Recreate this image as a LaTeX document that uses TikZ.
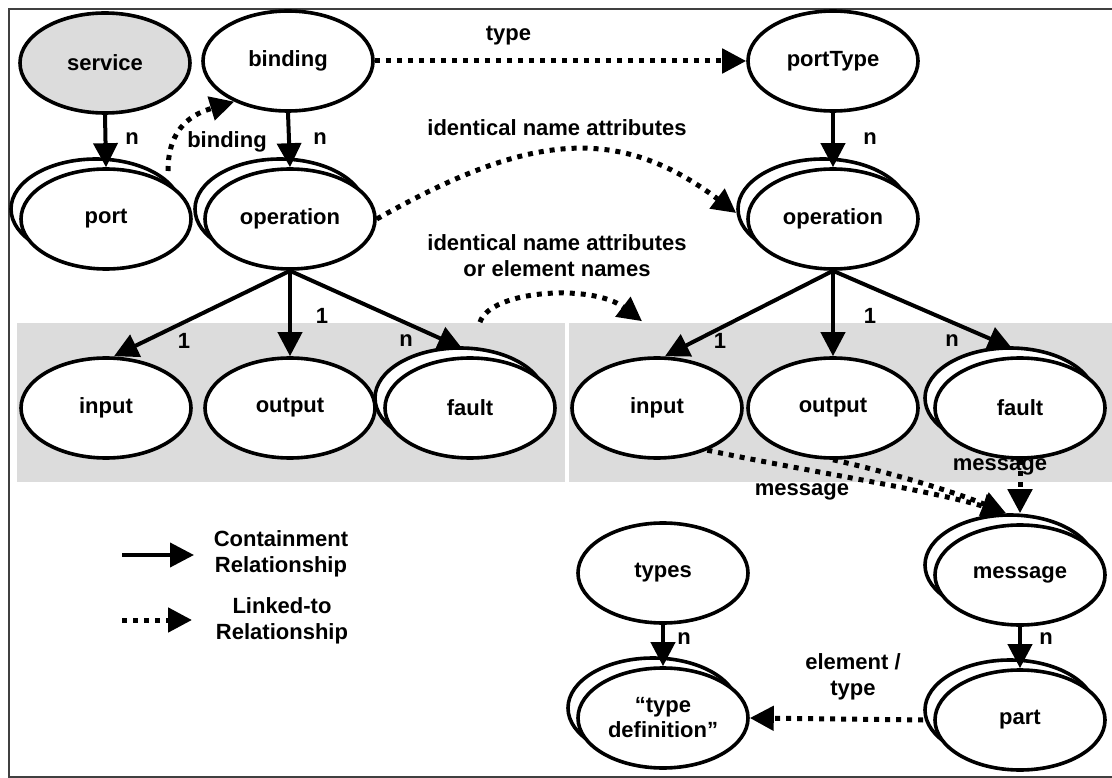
\documentclass[tikz,border=0pt]{standalone}
\usepackage{fontspec}
\setmainfont{Liberation Sans}
\usetikzlibrary{arrows.meta,shapes.geometric,calc}
\definecolor{panel}{RGB}{220,220,220}
\begin{document}
\begin{tikzpicture}[x=1pt,y=-1pt,
  every node/.style={font=\fontsize{22}{25}\selectfont\bfseries},
  ell/.style={ellipse,draw,line width=3.6pt,fill=white,minimum width=170pt,
    minimum height=100pt,inner sep=0pt,align=center},
  contain/.style={line width=4pt,-{Triangle[length=24pt,width=24pt]}},
  link/.style={line width=5pt,dash pattern=on 5pt off 6pt,
    -{Triangle[length=24pt,width=24pt]}},
  lbl/.style={inner sep=1pt,align=center,font=\fontsize{22}{26}\selectfont\bfseries},
]
\useasboundingbox (0,0) rectangle (1112,778);
% outer frame and the two grey panels
\draw[line width=1.6pt,black!75] (1114,9) -- (9,9) -- (9,777) -- (1114,777);
\fill[panel] (17,323) rectangle (565,482);
\fill[panel] (569,323) rectangle (1114,482);

% a stacked ellipse: a copy behind, offset up and to the left
\newcommand{\stacked}[3]{%
  \node[ell] at ($(#2)+(-10,-10)$) {};
  \node[ell] (#1) at (#2) {#3};}

% single elements
\node[ell,fill=panel] (service) at (105,63) {service};
\node[ell] (binding) at (288,61) {binding};
\node[ell] (portType) at (833,61) {portType};
\node[ell] (inL) at (106,408) {input};
\node[ell] (outL) at (290,408) {output};
\node[ell] (inR) at (657,408) {input};
\node[ell] (outR) at (833,408) {output};
\node[ell] (types) at (663,573) {types};

% stacked elements
\stacked{port}{106,219}{port}
\stacked{opL}{290,219}{operation}
\stacked{opR}{833,219}{operation}
\stacked{faultL}{470,408}{fault}
\stacked{faultR}{1020,408}{fault}
\stacked{message}{1020,575}{message}
\stacked{typedef}{663,718}{``type\\definition''}
\stacked{part}{1020,720}{part}

% containment
\draw[contain] (service.south) -- (port.north);
\draw[contain] (binding.south) -- (opL.north);
\draw[contain] (portType.south) -- (opR.north);
\draw[contain] (opL.south) -- ([xshift=8pt]inL.north);
\draw[contain] (opL.south) -- (outL.north);
\draw[contain] (opL.south) -- ([xshift=-8pt,yshift=8pt]faultL.north);
\draw[contain] (opR.south) -- ([xshift=8pt]inR.north);
\draw[contain] (opR.south) -- (outR.north);
\draw[contain] (opR.south) -- ([xshift=-8pt,yshift=8pt]faultR.north);
\draw[contain] (types.south) -- (typedef.north);
\draw[contain] (message.south) -- (part.north);

% multiplicities
\node[lbl] at (132,139) {n};
\node[lbl] at (320,139) {n};
\node[lbl] at (870,139) {n};
\node[lbl] at (184,341) {1};
\node[lbl] at (322,316) {1};
\node[lbl] at (406,341) {n};
\node[lbl] at (720,341) {1};
\node[lbl] at (870,316) {1};
\node[lbl] at (952,341) {n};
\node[lbl] at (684,639) {n};
\node[lbl] at (1046,639) {n};

% links
\draw[link] (binding.east) -- node[lbl,pos=0.36,above=12pt] {type} (portType.west);
\coordinate (pstart) at ([shift={(62,-48)}]port.center);
\draw[link] (pstart) .. controls +(0,-45) and +(-40,12) .. (binding.217);
\node[lbl] at (227,142) {binding};
\draw[link] (opL.east) .. controls (527,134) and (617,123) .. ([xshift=-10pt,yshift=6pt]opR.west);
\node[lbl] at (557,128) {identical name attributes};
\coordinate (fstart) at ([xshift=10pt,yshift=34pt]faultL.north);
\draw[link] (fstart) .. controls +(10,-32) and +(-50,-38) .. ([xshift=-15pt,yshift=35pt]inR.north);
\node[lbl] at (557,256) {identical name attributes\\or element names};
\draw[link] (inR.-40) .. controls (800,470) and (930,490) .. ([xshift=-14pt,yshift=10pt]message.north);
\draw[link] (outR.south) .. controls (880,470) and (950,490) .. ([xshift=-14pt,yshift=10pt]message.north);
\draw[link] (faultR.south) -- ([yshift=10pt]message.north);
\node[lbl] at (1000,467) {message};
\node[lbl] at (802,492) {message};
\draw[link] ([xshift=-10pt]part.west) -- (typedef.east);
\node[lbl] at (853,677) {element /\\type};

% legend
\coordinate (c1) at (122,555);
\coordinate (c2) at (122,620);
\draw[contain] (c1) -- +(72,0);
\node[lbl] at (281,554) {Containment\\Relationship};
\draw[link] (c2) -- +(70,0);
\node[lbl] at (282,621) {Linked-to\\Relationship};
\end{tikzpicture}
\end{document}
